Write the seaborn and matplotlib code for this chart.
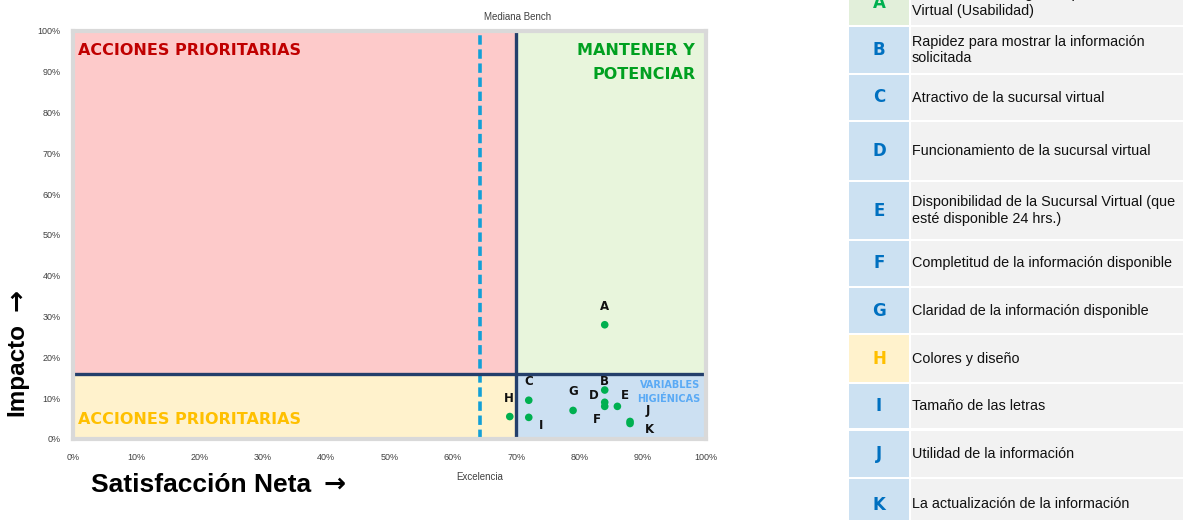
import matplotlib
matplotlib.use("Agg")
import matplotlib.pyplot as plt
from matplotlib.patches import Rectangle
import seaborn as sns
import pandas as pd

# ---------------- data ----------------
labels = ["A", "B", "C", "D", "E", "F", "G", "H", "I", "J", "K"]
satisfaccion = [84, 84, 72, 84, 86, 84, 79, 69, 72, 88, 88]
impacto = [28, 12, 9.5, 9, 8, 8, 7, 5.5, 5.3, 4.3, 3.8]
mediana_bench = 70
excelencia = 64.3
umbral_impacto = 16

descripciones = [
    "Facilidad de navegación por la Sucursal\nVirtual (Usabilidad)",
    "Rapidez para mostrar la información\nsolicitada",
    "Atractivo de la sucursal virtual",
    "Funcionamiento de la sucursal virtual",
    "Disponibilidad de la Sucursal Virtual (que\nesté disponible 24 hrs.)",
    "Completitud de la información disponible",
    "Claridad de la información disponible",
    "Colores y diseño",
    "Tamaño de las letras",
    "Utilidad de la información",
    "La actualización de la información",
]
cuadrante = ["mantener", "higienica", "higienica", "higienica", "higienica", "higienica",
             "higienica", "prioritaria_baja", "higienica", "higienica", "higienica"]
x_ticks = list(range(0, 101, 10))
y_ticks = list(range(0, 101, 10))
tick_labels = [f"{v}%" for v in x_ticks]

# ---------------- style ----------------
sns.set_theme(style="white")
plt.rcParams["font.family"] = ["Liberation Sans", "DejaVu Sans"]

W, H = 1183, 520
fig = plt.figure(figsize=(W / 100, H / 100), dpi=100)

def fx(px):
    return px / W

def fy(py):
    return 1 - py / H

ax = fig.add_axes([fx(73), fy(439), fx(706) - fx(73), fy(31) - fy(439)])
ax.set_xlim(0, 100)
ax.set_ylim(0, 100)

PINK = "#FDCACA"
GREEN_BG = "#E8F5DC"
YELLOW_BG = "#FFF2CC"
BLUE_BG = "#CCE0F2"
NAVY = "#243F6B"
DASH = "#12A0D7"

ax.add_patch(Rectangle((0, umbral_impacto), mediana_bench, 100 - umbral_impacto, color=PINK, lw=0, zorder=0))
ax.add_patch(Rectangle((mediana_bench, umbral_impacto), 100 - mediana_bench, 100 - umbral_impacto, color=GREEN_BG, lw=0, zorder=0))
ax.add_patch(Rectangle((0, 0), mediana_bench, umbral_impacto, color=YELLOW_BG, lw=0, zorder=0))
ax.add_patch(Rectangle((mediana_bench, 0), 100 - mediana_bench, umbral_impacto, color=BLUE_BG, lw=0, zorder=0))

ax.axvline(excelencia, color=DASH, lw=2.6, ls=(0, (2.6, 1.3)), zorder=1)
ax.axvline(mediana_bench, color=NAVY, lw=2.4, zorder=2)
ax.axhline(umbral_impacto, color=NAVY, lw=2.4, zorder=2)

for s in ax.spines.values():
    s.set_visible(True)
    s.set_color("#D9D9D9")
    s.set_linewidth(3)

df = pd.DataFrame({"x": satisfaccion, "y": impacto, "label": labels})
sns.scatterplot(data=df, x="x", y="y", ax=ax, color="#00B050", s=30, edgecolor="none", zorder=5)

# label offsets (pixels, image coords: +x right, +y down)
offsets = {"A": (0, -18), "B": (0, -9), "C": (0, -19), "D": (-11, -7), "E": (7, -11),
           "F": (-8, 13), "G": (0, -19), "H": (-1, -18), "I": (12, 8), "J": (18, -11),
           "K": (19, 6)}
for _, r in df.iterrows():
    dx, dy = offsets[r["label"]]
    ax.annotate(r["label"], (r["x"], r["y"]), xytext=(dx * 0.72, -dy * 0.72),
                textcoords="offset points", ha="center", va="center",
                fontsize=8.5, fontweight="bold", color="#111111", zorder=6,
                family=["DejaVu Sans"])

ax.set_xticks(x_ticks)
ax.set_yticks(y_ticks)
ax.set_xticklabels(tick_labels)
ax.set_yticklabels(tick_labels)
ax.tick_params(axis="both", length=0, labelsize=6.5, labelcolor="#404040")
ax.tick_params(axis="x", pad=10)
ax.tick_params(axis="y", pad=9)
ax.set_xlabel("")
ax.set_ylabel("")

qfont = dict(fontweight="bold", family=["DejaVu Sans"])
ax.text(0.8, 95.3, "ACCIONES PRIORITARIAS", color="#C00000", fontsize=11.5, ha="left", va="center", **qfont)
ax.text(98.3, 95.3, "MANTENER Y", color="#00A020", fontsize=11.5, ha="right", va="center", **qfont)
ax.text(98.3, 89.4, "POTENCIAR", color="#00A020", fontsize=11.5, ha="right", va="center", **qfont)
ax.text(0.8, 4.7, "ACCIONES PRIORITARIAS", color="#FFC000", fontsize=11.5, ha="left", va="center", **qfont)
ax.text(99.1, 13.2, "VARIABLES", color="#5AAAF5", fontsize=7, ha="right", va="center", **qfont)
ax.text(99.1, 9.9, "HIGIÉNICAS", color="#5AAAF5", fontsize=7, ha="right", va="center", **qfont)

fig.text(fx(518), fy(17), "Mediana Bench", ha="center", va="center", fontsize=7, color="#404040")
fig.text(fx(480), fy(477), "Excelencia", ha="center", va="center", fontsize=7, color="#404040")

# axis titles (text + bold arrow)
fig.text(fx(17), fy(369), "Impacto", rotation=90, ha="center", va="center",
         fontsize=17.5, fontweight="bold", color="black")
fig.text(fx(17), fy(300), "→", rotation=90, ha="center", va="center",
         fontsize=19, fontweight="bold", color="black", family=["DejaVu Sans"])
fig.text(fx(201), fy(485), "Satisfacción Neta", ha="center", va="center",
         fontsize=19, fontweight="bold", color="black")
fig.text(fx(335), fy(485), "→", ha="center", va="center",
         fontsize=19, fontweight="bold", color="black", family=["DejaVu Sans"])

# ---------------- table ----------------
tx = fig.add_axes([fx(849), 0, 1 - fx(849), 1])
tx.set_xlim(849, 1183)
tx.set_ylim(520, 0)
tx.axis("off")
row_edges = [(-20, 25), (27, 73), (75, 120), (122, 180), (182, 239), (241, 286),
             (288, 333), (335, 382), (384, 428), (431, 477), (479, 530)]
cell_bg = {"mantener": "#E2EFDA", "higienica": "#CCE1F2", "prioritaria_baja": "#FFF2CC"}
letter_col = {"mantener": "#00B050", "higienica": "#0070C0", "prioritaria_baja": "#FFC000"}
for lab, desc, q, (top, bot) in zip(labels, descripciones, cuadrante, row_edges):
    tx.add_patch(Rectangle((849, top), 60, bot - top, color=cell_bg[q], lw=0))
    tx.add_patch(Rectangle((911, top), 300, bot - top, color="#F2F2F2", lw=0))
    cy = (top + bot) / 2
    tx.text(879, cy, lab, ha="center", va="center", fontsize=12, fontweight="bold",
            color=letter_col[q], family=["DejaVu Sans"])
    tx.text(912, cy, desc, ha="left", va="center", fontsize=10.4, color="#111111",
            linespacing=1.2)

fig.savefig("out.png", dpi=100)
